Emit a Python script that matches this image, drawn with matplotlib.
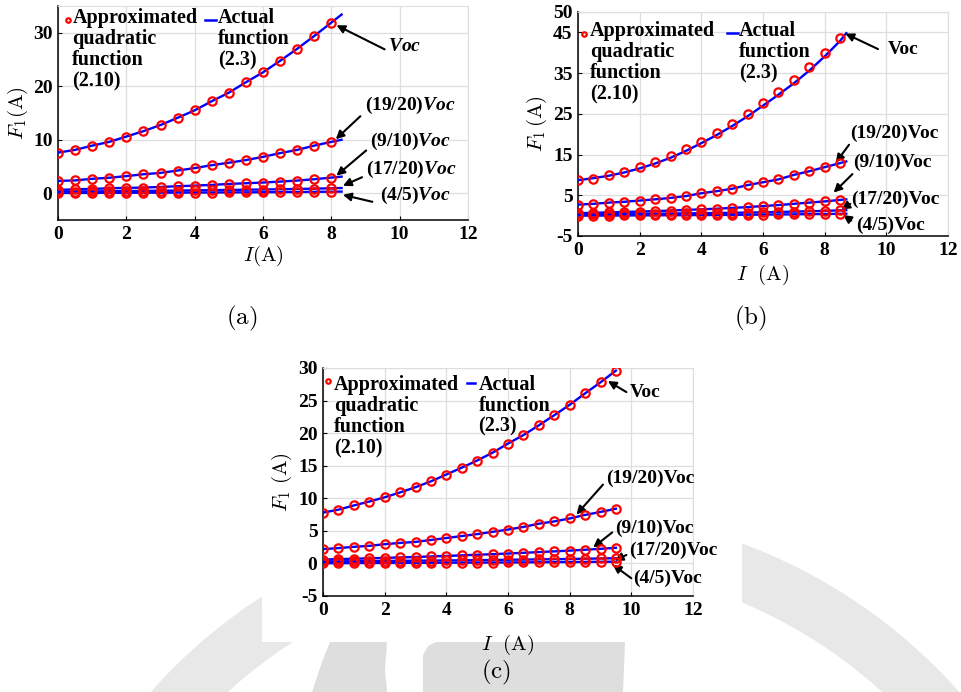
import numpy as np
import matplotlib
matplotlib.use("Agg")
import matplotlib.pyplot as plt
from matplotlib.patches import Rectangle, Polygon, Wedge

plt.rcParams['font.family'] = ['Liberation Serif', 'DejaVu Serif']
plt.rcParams['font.weight'] = 'bold'
plt.rcParams['axes.unicode_minus'] = False
plt.rcParams['mathtext.fontset'] = 'custom'
plt.rcParams['mathtext.rm'] = 'Liberation Serif:bold'
plt.rcParams['mathtext.bf'] = 'Liberation Serif:bold'
plt.rcParams['mathtext.bfit'] = 'Liberation Serif:bold:italic'
plt.rcParams['mathtext.it'] = 'Liberation Serif:bold:italic'

# ---- (a) ----
I_a = np.arange(0, 8.01, 0.5)
I_a_end = 8.3
a_voc = [7.6, 8.1, 8.9, 9.6, 10.6, 11.6, 12.75, 14.1, 15.5, 17.2, 18.8, 20.75, 22.6, 24.75, 27.0, 29.4, 31.9]
a_1920 = [2.3, 2.4, 2.7, 2.9, 3.2, 3.55, 3.8, 4.25, 4.7, 5.25, 5.7, 6.2, 6.8, 7.5, 8.1, 8.9, 9.6]
a_910 = [0.62, 0.74, 0.81, 0.93, 1.0, 1.06, 1.18, 1.31, 1.43, 1.56, 1.74, 1.87, 2.0, 2.18, 2.37, 2.62, 2.93]
a_1720 = [0.3, 0.32, 0.35, 0.38, 0.41, 0.44, 0.47, 0.5, 0.54, 0.58, 0.62, 0.66, 0.7, 0.75, 0.8, 0.86, 0.93]
a_45 = [0.05, 0.06, 0.07, 0.08, 0.09, 0.1, 0.11, 0.12, 0.13, 0.14, 0.16, 0.17, 0.19, 0.21, 0.23, 0.26, 0.29]
a_end = [33.4, 10.0, 3.1, 0.98, 0.31]

# ---- (b) ----
I_b = np.arange(0, 8.51, 0.5)
I_b_end = 8.7
b_voc = [8.7, 9.1, 10.0, 10.7, 11.9, 13.2, 14.75, 16.3, 18.2, 20.3, 22.5, 24.9, 27.6, 30.4, 33.4, 36.6, 39.9, 43.5]
b_voc_actual = [8.7, 9.2, 9.8, 10.6, 11.6, 12.8, 14.2, 15.9, 17.8, 19.8, 22.0, 24.4, 27.0, 29.7, 32.5, 35.6, 39.1, 42.9]
b_1920 = [2.7, 2.9, 3.2, 3.4, 3.7, 4.0, 4.35, 4.8, 5.5, 6.0, 6.6, 7.5, 8.2, 8.9, 10.0, 10.9, 11.9, 12.9]
b_910 = [0.6, 0.7, 0.8, 0.9, 1.0, 1.1, 1.25, 1.4, 1.55, 1.7, 1.9, 2.1, 2.35, 2.6, 2.9, 3.2, 3.5, 3.85]
b_1720 = [0.3, 0.33, 0.36, 0.4, 0.44, 0.48, 0.52, 0.56, 0.6, 0.65, 0.7, 0.76, 0.82, 0.9, 0.98, 1.07, 1.17, 1.3]
b_45 = [0.0, 0.01, 0.02, 0.04, 0.06, 0.08, 0.1, 0.12, 0.14, 0.16, 0.19, 0.22, 0.25, 0.28, 0.32, 0.36, 0.4, 0.45]
b_end = [44.8, 13.3, 4.0, 1.35, 0.47]

# ---- (c) ----
I_c = np.arange(0, 9.51, 0.5)
c_voc = [7.8, 8.25, 8.9, 9.5, 10.15, 10.9, 11.7, 12.6, 13.65, 14.7, 15.8, 17.0, 18.4, 19.7, 21.2, 22.75, 24.35, 26.1, 27.8, 29.6]
c_1920 = [2.2, 2.35, 2.55, 2.7, 2.95, 3.15, 3.3, 3.6, 3.9, 4.2, 4.5, 4.85, 5.2, 5.6, 6.1, 6.45, 6.9, 7.45, 7.9, 8.4]
c_910 = [0.6, 0.66, 0.72, 0.78, 0.85, 0.92, 0.99, 1.07, 1.15, 1.24, 1.33, 1.42, 1.52, 1.63, 1.74, 1.85, 1.97, 2.1, 2.24, 2.4]
c_1720 = [0.3, 0.32, 0.34, 0.36, 0.38, 0.4, 0.42, 0.44, 0.46, 0.48, 0.5, 0.53, 0.56, 0.59, 0.62, 0.65, 0.68, 0.72, 0.76, 0.8]
c_45 = [0.03, 0.04, 0.05, 0.06, 0.07, 0.08, 0.09, 0.1, 0.11, 0.12, 0.13, 0.14, 0.15, 0.16, 0.18, 0.2, 0.21, 0.23, 0.25, 0.27]

RED = '#ff0000'
BLUE = '#0000ff'
W, H = 961, 692

fig = plt.figure(figsize=(W / 100, H / 100), dpi=100)
fig.patch.set_facecolor('white')

# background layer in pixel units: faint seal ring and blocks behind panel (c)
bg = fig.add_axes([0, 0, 1, 1], zorder=-5)
bg.set_xlim(0, W)
bg.set_ylim(H, 0)
bg.axis('off')
bg.add_patch(Wedge((555, 1050), 540, 0, 360, width=55, fc='#e8e8e8', ec='none'))
bg.add_patch(Polygon([(312, 692), (322, 662), (330, 642), (387, 642), (385, 670), (387, 692)],
                     closed=True, fc='#dedede', ec='none'))
bg.add_patch(Polygon([(423, 692), (423, 655), (428, 646), (436, 642), (625, 642), (623, 692)],
                     closed=True, fc='#dedede', ec='none'))
bg.add_patch(Rectangle((262, 345), 480, 297, fc='white', ec='none'))


def px_axes(x0, y0, x1, y1):
    return fig.add_axes([x0 / W, 1 - y1 / H, (x1 - x0) / W, (y1 - y0) / H])


def style(ax, yticks, ylim):
    ax.set_xlim(0, 12)
    ax.set_ylim(*ylim)
    ax.set_xticks(range(0, 13, 2))
    ax.set_yticks(yticks)
    ax.grid(True, color='#dedede', lw=0.9)
    ax.set_axisbelow(True)
    for s in ('top', 'right'):
        ax.spines[s].set_color('#dedede')
    for s in ('left', 'bottom'):
        ax.spines[s].set_linewidth(1.1)
    ax.tick_params(direction='in', length=3, labelsize=14, pad=4,
                   top=False, right=False)
    for lab in ax.get_xticklabels() + ax.get_yticklabels():
        lab.set_fontweight('bold')


def curves(ax, I, approx, I_line, actual):
    for y in actual:
        ax.plot(I_line, y, color=BLUE, lw=1.7, zorder=3)
    for y in approx:
        ax.plot(I, y, 'o', mfc='none', mec=RED, ms=6, mew=1.6, zorder=4)


def key(ax, xm, ym, xt, yt, xl, yl, xa):
    ax.plot([xm], [ym], 'o', mfc='none', mec=RED, ms=3.2, mew=1.6,
            transform=ax.transAxes, clip_on=False, zorder=6)
    ax.text(xt, yt, 'Approximated\nquadratic\nfunction\n(2.10)', transform=ax.transAxes,
            fontsize=14.5, fontweight='bold', va='top', ha='left', linespacing=1.07, zorder=6)
    ax.plot(xl, [yl, yl], color=BLUE, lw=1.8, transform=ax.transAxes, clip_on=False, zorder=6)
    ax.text(xa, yt, 'Actual\nfunction\n(2.3)', transform=ax.transAxes,
            fontsize=14.5, fontweight='bold', va='top', ha='left', linespacing=1.07, zorder=6)


def arrows(ax, items):
    for label, head, tail, tpos in items:
        ax.annotate('', xy=head, xytext=tail,
                    arrowprops=dict(arrowstyle='-|>', color='k', lw=1.5,
                                    mutation_scale=12, shrinkA=0, shrinkB=0))
        ax.text(tpos[0], tpos[1], label, fontsize=14, fontweight='bold',
                ha='left', va='center', clip_on=False)


# (a)
ax = px_axes(58, 6, 468, 220)
style(ax, [0, 10, 20, 30], (-5, 35))
I_line = list(I_a) + [I_a_end]
curves(ax, I_a, [a_voc, a_1920, a_910, a_1720, a_45], I_line,
       [s + [e] for s, e in zip([a_voc, a_1920, a_910, a_1720, a_45], a_end)])
key(ax, 0.024, 0.935, 0.035, 0.99, [0.359, 0.385], 0.935, 0.39)
arrows(ax, [
    (r'$\mathbfit{Voc}$', (8.15, 31.4), (9.56, 26.9), (9.66, 27.5)),
    (r'(19/20)$\mathbfit{Voc}$', (8.13, 10.1), (8.85, 14.4), (8.98, 16.4)),
    (r'(9/10)$\mathbfit{Voc}$', (8.15, 3.3), (9.02, 8.0), (9.12, 9.7)),
    (r'(17/20)$\mathbfit{Voc}$', (8.34, 1.4), (8.9, 3.0), (9.02, 4.4)),
    (r'(4/5)$\mathbfit{Voc}$', (8.34, -0.3), (9.2, -1.6), (9.41, -0.5)),
])
ax.set_xlabel(r'$I\mathrm{(A)}$', fontsize=15, math_fontfamily='cm', labelpad=1)
ax.set_ylabel(r'$F_1\mathrm{(A)}$', fontsize=15, math_fontfamily='cm', labelpad=2)

# (b)
ax = px_axes(578, 12, 948, 236)
style(ax, [-5, 5, 15, 25, 35, 45, 50], (-5, 50))
I_line = list(I_b) + [I_b_end]
actual_b = [b_voc_actual, b_1920, b_910, b_1720, b_45]
curves(ax, I_b, [b_voc, b_1920, b_910, b_1720, b_45], I_line,
       [s + [e] for s, e in zip(actual_b, b_end)])
key(ax, 0.016, 0.902, 0.033, 0.96, [0.403, 0.432], 0.906, 0.435)
arrows(ax, [
    ('Voc', (8.67, 44.7), (9.73, 40.9), (10.05, 40.7)),
    ('(19/20)Voc', (8.36, 13.0), (8.79, 17.4), (8.81, 20.1)),
    ('(9/10)Voc', (8.29, 5.65), (8.9, 10.2), (8.92, 13.0)),
    ('(17/20)Voc', (8.54, 1.56), (8.83, 2.9), (8.86, 4.1)),
    ('(4/5)Voc', (8.6, 0.16), (8.86, -1.2), (9.03, -2.3)),
])
ax.set_xlabel(r'$I\ \ \mathrm{(A)}$', fontsize=15, math_fontfamily='cm', labelpad=3)
ax.set_ylabel(r'$F_1\,\mathrm{(A)}$', fontsize=15, math_fontfamily='cm', labelpad=3)

# (c)
ax = px_axes(323, 368, 693, 596)
style(ax, range(-5, 31, 5), (-5, 30))
series_c = [c_voc, c_1920, c_910, c_1720, c_45]
curves(ax, I_c, series_c, I_c, series_c)
key(ax, 0.0135, 0.943, 0.03, 0.97, [0.389, 0.411], 0.934, 0.42)
arrows(ax, [
    ('Voc', (9.24, 28.0), (9.84, 26.3), (9.95, 26.3)),
    ('(19/20)Voc', (8.22, 7.5), (9.08, 12.1), (9.19, 13.0)),
    ('(9/10)Voc', (8.76, 2.45), (9.38, 4.76), (9.49, 5.4)),
    ('(17/20)Voc', (9.46, 0.45), (9.84, 1.3), (9.92, 1.94)),
    ('(4/5)Voc', (9.4, -0.2), (10.0, -2.28), (10.05, -2.28)),
])
ax.set_xlabel(r'$I\ \ \mathrm{(A)}$', fontsize=15, math_fontfamily='cm', labelpad=10)
ax.set_ylabel(r'$F_1\ \mathrm{(A)}$', fontsize=15, math_fontfamily='cm', labelpad=3)

# panel captions
for txt, x, y in [('(a)', 242, 318), ('(b)', 750, 318), ('(c)', 496, 672)]:
    fig.text(x / W, 1 - y / H, r'$\mathrm{' + txt + '}$', fontsize=18,
             math_fontfamily='cm', ha='center', va='center')

fig.savefig('out.png', dpi=100)
